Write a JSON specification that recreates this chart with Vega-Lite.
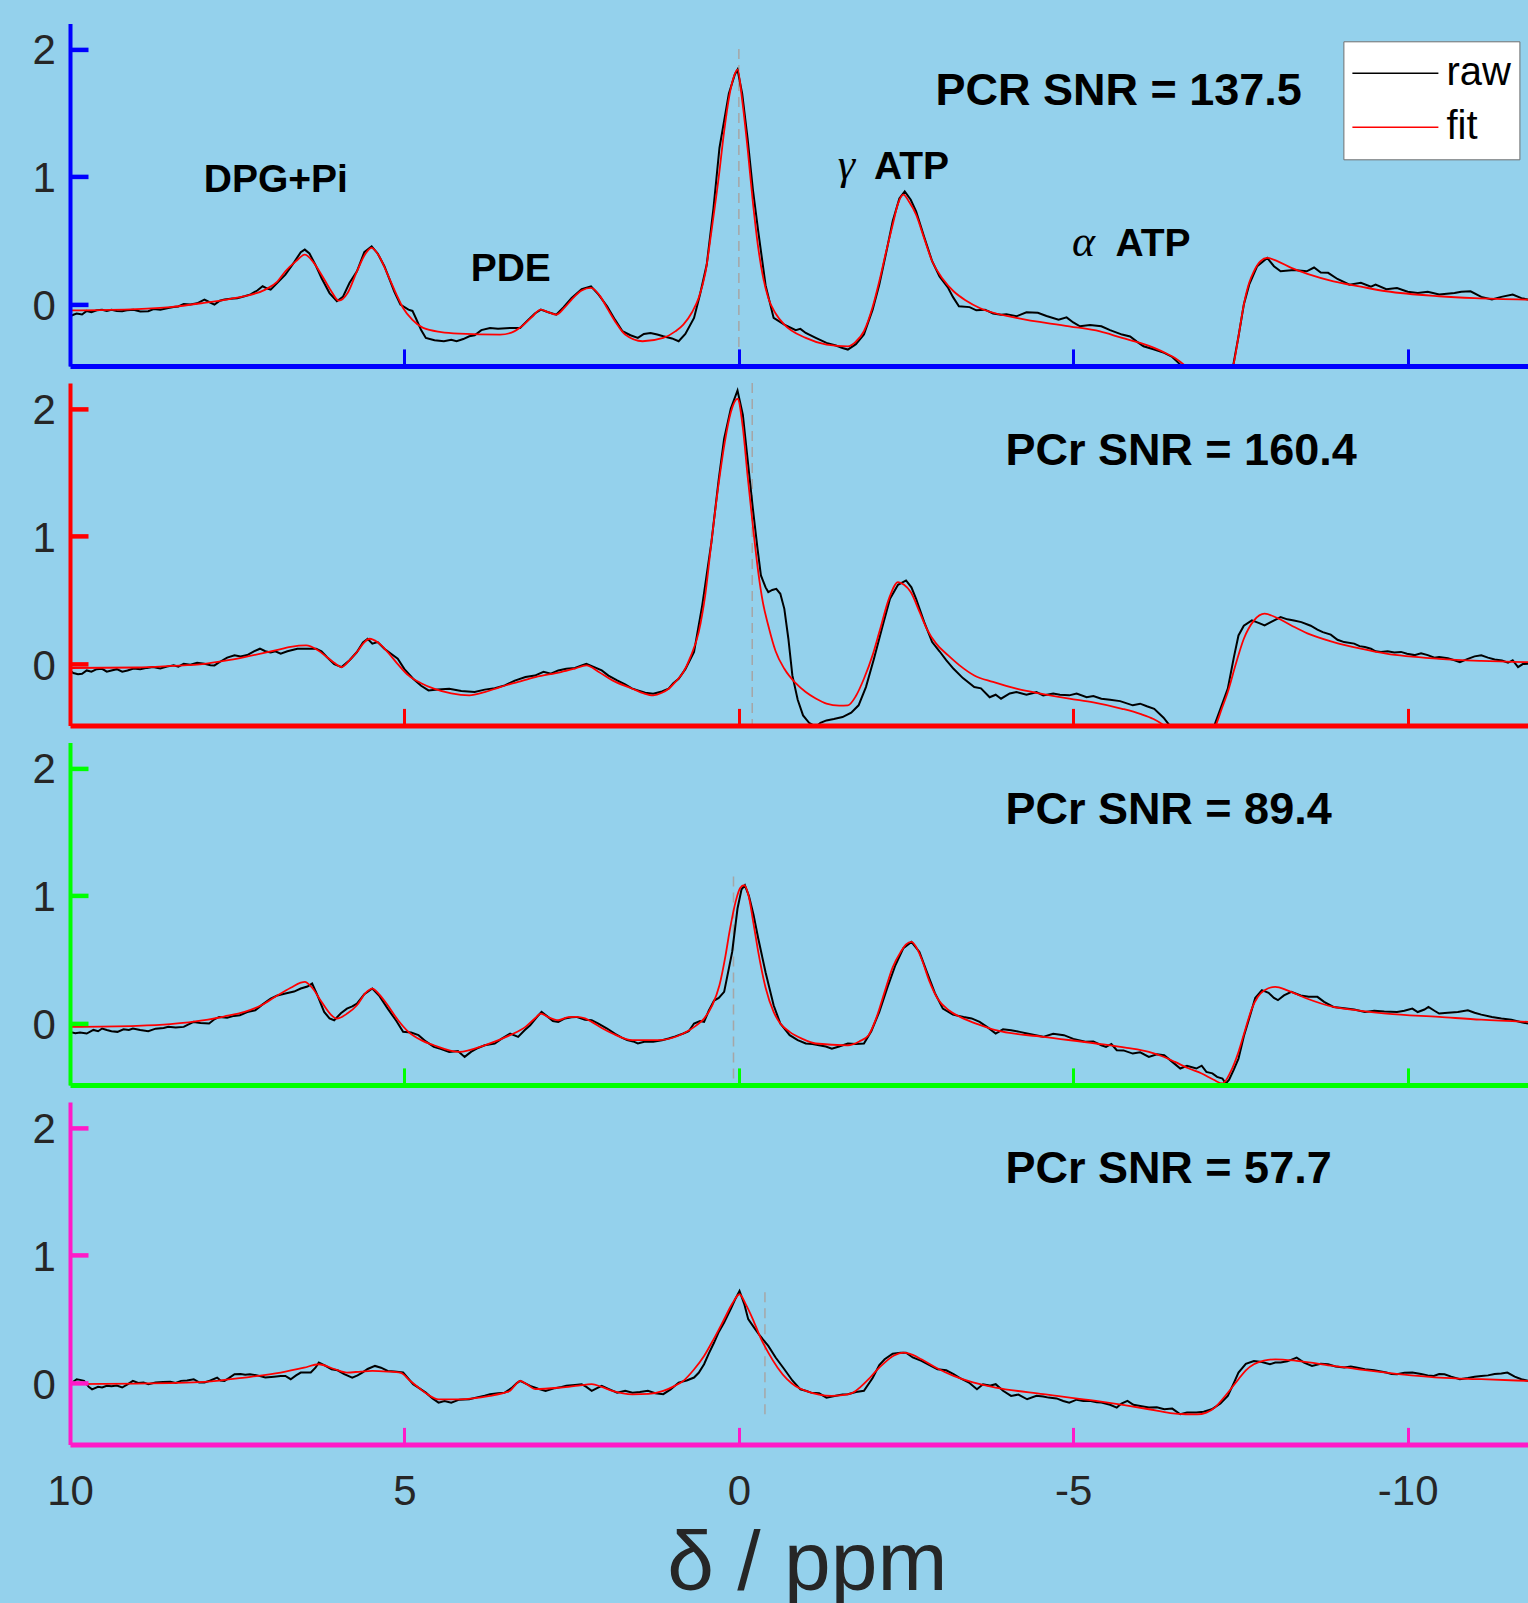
{
"$schema": "https://vega.github.io/schema/vega-lite/v6.json",
"background": "#94d1ec",
"padding": {"left": 32, "top": 23.4, "right": 0, "bottom": 0},
"bounds": "flush",
"spacing": 16.5,
"resolve": {"scale": {"color": "independent"}, "legend": {"color": "independent"}},
"config": {
  "view": {"stroke": null},
  "axis": {"grid": false, "labelFont": "Liberation Sans", "labelFontSize": 42, "labelColor": "#262626", "domainCap": "butt", "tickCap": "butt", "labelFlush": false, "labelOverlap": false, "labelExpr": "'' + datum.value"}
},
"datasets": {
  "dash": [
    {"p":1,"x":0.0,"y":2.0,"y2":-0.48},
    {"p":2,"x":-0.2,"y":2.2,"y2":-0.48},
    {"p":3,"x":0.08,"y":1.15,"y2":-0.48},
    {"p":4,"x":-0.39,"y":0.71,"y2":-0.28}
  ],
  "ann": [
    {"p":1,"k":"lab","x":8.0,"y":0.881,"t":"DPG+Pi"},
    {"p":1,"k":"lab","x":4.01,"y":0.187,"t":"PDE"},
    {"p":1,"k":"lab","x":-2.02,"y":0.985,"t":"ATP"},
    {"p":1,"k":"lab","x":-5.63,"y":0.383,"t":"ATP"},
    {"p":1,"k":"greek","x":-1.48,"y":0.985,"t":"γ"},
    {"p":1,"k":"greek","x":-4.98,"y":0.383,"t":"α"},
    {"p":1,"k":"snr","x":-2.94,"y":1.559,"t":"PCR SNR = 137.5"},
    {"p":2,"k":"snr","x":-3.985,"y":1.559,"t":"PCr SNR = 160.4"},
    {"p":3,"k":"snr","x":-3.985,"y":1.558,"t":"PCr SNR = 89.4"},
    {"p":4,"k":"snr","x":-3.985,"y":1.563,"t":"PCr SNR = 57.7"}
  ],
  "spec": [
{"p":1,"s":"raw","x":10.0,"y":-0.092},{"p":1,"s":"raw","x":9.95,"y":-0.08},{"p":1,"s":"raw","x":9.9,"y":-0.07},{"p":1,"s":"raw","x":9.82,"y":-0.078},{"p":1,"s":"raw","x":9.75,"y":-0.05},{"p":1,"s":"raw","x":9.68,"y":-0.06},{"p":1,"s":"raw","x":9.6,"y":-0.045},{"p":1,"s":"raw","x":9.52,"y":-0.04},{"p":1,"s":"raw","x":9.45,"y":-0.05},{"p":1,"s":"raw","x":9.38,"y":-0.04},{"p":1,"s":"raw","x":9.3,"y":-0.05},{"p":1,"s":"raw","x":9.22,"y":-0.052},{"p":1,"s":"raw","x":9.15,"y":-0.045},{"p":1,"s":"raw","x":9.05,"y":-0.04},{"p":1,"s":"raw","x":8.95,"y":-0.055},{"p":1,"s":"raw","x":8.83,"y":-0.052},{"p":1,"s":"raw","x":8.75,"y":-0.035},{"p":1,"s":"raw","x":8.65,"y":-0.04},{"p":1,"s":"raw","x":8.53,"y":-0.027},{"p":1,"s":"raw","x":8.45,"y":-0.02},{"p":1,"s":"raw","x":8.38,"y":-0.015},{"p":1,"s":"raw","x":8.3,"y":0.005},{"p":1,"s":"raw","x":8.2,"y":0.0},{"p":1,"s":"raw","x":8.1,"y":0.01},{"p":1,"s":"raw","x":7.99,"y":0.039},{"p":1,"s":"raw","x":7.92,"y":0.02},{"p":1,"s":"raw","x":7.84,"y":0.0},{"p":1,"s":"raw","x":7.76,"y":0.03},{"p":1,"s":"raw","x":7.69,"y":0.039},{"p":1,"s":"raw","x":7.6,"y":0.045},{"p":1,"s":"raw","x":7.5,"y":0.05},{"p":1,"s":"raw","x":7.39,"y":0.065},{"p":1,"s":"raw","x":7.3,"y":0.08},{"p":1,"s":"raw","x":7.2,"y":0.11},{"p":1,"s":"raw","x":7.12,"y":0.143},{"p":1,"s":"raw","x":7.05,"y":0.125},{"p":1,"s":"raw","x":7.0,"y":0.117},{"p":1,"s":"raw","x":6.9,"y":0.17},{"p":1,"s":"raw","x":6.78,"y":0.234},{"p":1,"s":"raw","x":6.65,"y":0.33},{"p":1,"s":"raw","x":6.55,"y":0.41},{"p":1,"s":"raw","x":6.49,"y":0.43},{"p":1,"s":"raw","x":6.42,"y":0.4},{"p":1,"s":"raw","x":6.33,"y":0.31},{"p":1,"s":"raw","x":6.24,"y":0.208},{"p":1,"s":"raw","x":6.12,"y":0.09},{"p":1,"s":"raw","x":6.01,"y":0.026},{"p":1,"s":"raw","x":5.92,"y":0.06},{"p":1,"s":"raw","x":5.82,"y":0.17},{"p":1,"s":"raw","x":5.71,"y":0.26},{"p":1,"s":"raw","x":5.6,"y":0.41},{"p":1,"s":"raw","x":5.49,"y":0.456},{"p":1,"s":"raw","x":5.4,"y":0.4},{"p":1,"s":"raw","x":5.3,"y":0.3},{"p":1,"s":"raw","x":5.25,"y":0.234},{"p":1,"s":"raw","x":5.15,"y":0.1},{"p":1,"s":"raw","x":5.06,"y":0.0},{"p":1,"s":"raw","x":4.94,"y":-0.04},{"p":1,"s":"raw","x":4.88,"y":-0.05},{"p":1,"s":"raw","x":4.83,"y":-0.105},{"p":1,"s":"raw","x":4.75,"y":-0.2},{"p":1,"s":"raw","x":4.68,"y":-0.261},{"p":1,"s":"raw","x":4.55,"y":-0.28},{"p":1,"s":"raw","x":4.41,"y":-0.287},{"p":1,"s":"raw","x":4.3,"y":-0.275},{"p":1,"s":"raw","x":4.22,"y":-0.287},{"p":1,"s":"raw","x":4.12,"y":-0.27},{"p":1,"s":"raw","x":4.03,"y":-0.248},{"p":1,"s":"raw","x":3.95,"y":-0.24},{"p":1,"s":"raw","x":3.85,"y":-0.2},{"p":1,"s":"raw","x":3.72,"y":-0.183},{"p":1,"s":"raw","x":3.6,"y":-0.19},{"p":1,"s":"raw","x":3.42,"y":-0.183},{"p":1,"s":"raw","x":3.27,"y":-0.183},{"p":1,"s":"raw","x":3.15,"y":-0.12},{"p":1,"s":"raw","x":3.05,"y":-0.07},{"p":1,"s":"raw","x":2.96,"y":-0.04},{"p":1,"s":"raw","x":2.85,"y":-0.06},{"p":1,"s":"raw","x":2.73,"y":-0.079},{"p":1,"s":"raw","x":2.62,"y":-0.02},{"p":1,"s":"raw","x":2.5,"y":0.052},{"p":1,"s":"raw","x":2.35,"y":0.12},{"p":1,"s":"raw","x":2.21,"y":0.143},{"p":1,"s":"raw","x":2.1,"y":0.08},{"p":1,"s":"raw","x":1.97,"y":-0.013},{"p":1,"s":"raw","x":1.85,"y":-0.12},{"p":1,"s":"raw","x":1.74,"y":-0.209},{"p":1,"s":"raw","x":1.62,"y":-0.24},{"p":1,"s":"raw","x":1.51,"y":-0.261},{"p":1,"s":"raw","x":1.42,"y":-0.23},{"p":1,"s":"raw","x":1.32,"y":-0.222},{"p":1,"s":"raw","x":1.22,"y":-0.235},{"p":1,"s":"raw","x":1.13,"y":-0.248},{"p":1,"s":"raw","x":1.0,"y":-0.265},{"p":1,"s":"raw","x":0.9,"y":-0.287},{"p":1,"s":"raw","x":0.8,"y":-0.23},{"p":1,"s":"raw","x":0.67,"y":-0.105},{"p":1,"s":"raw","x":0.58,"y":0.08},{"p":1,"s":"raw","x":0.48,"y":0.313},{"p":1,"s":"raw","x":0.38,"y":0.75},{"p":1,"s":"raw","x":0.29,"y":1.225},{"p":1,"s":"raw","x":0.15,"y":1.65},{"p":1,"s":"raw","x":0.06,"y":1.8},{"p":1,"s":"raw","x":0.02,"y":1.838},{"p":1,"s":"raw","x":-0.05,"y":1.65},{"p":1,"s":"raw","x":-0.13,"y":1.303},{"p":1,"s":"raw","x":-0.21,"y":0.9},{"p":1,"s":"raw","x":-0.29,"y":0.573},{"p":1,"s":"raw","x":-0.4,"y":0.15},{"p":1,"s":"raw","x":-0.52,"y":-0.105},{"p":1,"s":"raw","x":-0.68,"y":-0.157},{"p":1,"s":"raw","x":-0.85,"y":-0.2},{"p":1,"s":"raw","x":-0.92,"y":-0.19},{"p":1,"s":"raw","x":-1.0,"y":-0.222},{"p":1,"s":"raw","x":-1.15,"y":-0.26},{"p":1,"s":"raw","x":-1.31,"y":-0.3},{"p":1,"s":"raw","x":-1.45,"y":-0.32},{"p":1,"s":"raw","x":-1.55,"y":-0.34},{"p":1,"s":"raw","x":-1.63,"y":-0.352},{"p":1,"s":"raw","x":-1.75,"y":-0.31},{"p":1,"s":"raw","x":-1.87,"y":-0.235},{"p":1,"s":"raw","x":-2.0,"y":-0.04},{"p":1,"s":"raw","x":-2.1,"y":0.156},{"p":1,"s":"raw","x":-2.2,"y":0.4},{"p":1,"s":"raw","x":-2.3,"y":0.652},{"p":1,"s":"raw","x":-2.4,"y":0.83},{"p":1,"s":"raw","x":-2.48,"y":0.886},{"p":1,"s":"raw","x":-2.57,"y":0.82},{"p":1,"s":"raw","x":-2.65,"y":0.73},{"p":1,"s":"raw","x":-2.77,"y":0.53},{"p":1,"s":"raw","x":-2.89,"y":0.339},{"p":1,"s":"raw","x":-3.0,"y":0.22},{"p":1,"s":"raw","x":-3.13,"y":0.13},{"p":1,"s":"raw","x":-3.2,"y":0.06},{"p":1,"s":"raw","x":-3.29,"y":-0.013},{"p":1,"s":"raw","x":-3.45,"y":-0.02},{"p":1,"s":"raw","x":-3.55,"y":-0.045},{"p":1,"s":"raw","x":-3.68,"y":-0.04},{"p":1,"s":"raw","x":-3.8,"y":-0.07},{"p":1,"s":"raw","x":-3.92,"y":-0.079},{"p":1,"s":"raw","x":-4.0,"y":-0.075},{"p":1,"s":"raw","x":-4.15,"y":-0.092},{"p":1,"s":"raw","x":-4.3,"y":-0.06},{"p":1,"s":"raw","x":-4.47,"y":-0.065},{"p":1,"s":"raw","x":-4.6,"y":-0.09},{"p":1,"s":"raw","x":-4.78,"y":-0.118},{"p":1,"s":"raw","x":-4.9,"y":-0.1},{"p":1,"s":"raw","x":-5.0,"y":-0.14},{"p":1,"s":"raw","x":-5.1,"y":-0.17},{"p":1,"s":"raw","x":-5.25,"y":-0.16},{"p":1,"s":"raw","x":-5.42,"y":-0.17},{"p":1,"s":"raw","x":-5.55,"y":-0.2},{"p":1,"s":"raw","x":-5.73,"y":-0.235},{"p":1,"s":"raw","x":-5.85,"y":-0.25},{"p":1,"s":"raw","x":-5.95,"y":-0.29},{"p":1,"s":"raw","x":-6.05,"y":-0.326},{"p":1,"s":"raw","x":-6.2,"y":-0.35},{"p":1,"s":"raw","x":-6.36,"y":-0.378},{"p":1,"s":"raw","x":-6.48,"y":-0.41},{"p":1,"s":"raw","x":-6.6,"y":-0.47},{"p":1,"s":"raw","x":-6.8,"y":-0.62},{"p":1,"s":"raw","x":-7.2,"y":-0.62},{"p":1,"s":"raw","x":-7.39,"y":-0.48},{"p":1,"s":"raw","x":-7.47,"y":-0.25},{"p":1,"s":"raw","x":-7.55,"y":0.0},{"p":1,"s":"raw","x":-7.63,"y":0.156},{"p":1,"s":"raw","x":-7.75,"y":0.3},{"p":1,"s":"raw","x":-7.9,"y":0.365},{"p":1,"s":"raw","x":-8.0,"y":0.3},{"p":1,"s":"raw","x":-8.1,"y":0.26},{"p":1,"s":"raw","x":-8.3,"y":0.27},{"p":1,"s":"raw","x":-8.49,"y":0.26},{"p":1,"s":"raw","x":-8.6,"y":0.29},{"p":1,"s":"raw","x":-8.7,"y":0.25},{"p":1,"s":"raw","x":-8.81,"y":0.248},{"p":1,"s":"raw","x":-8.95,"y":0.2},{"p":1,"s":"raw","x":-9.13,"y":0.156},{"p":1,"s":"raw","x":-9.3,"y":0.17},{"p":1,"s":"raw","x":-9.45,"y":0.14},{"p":1,"s":"raw","x":-9.52,"y":0.156},{"p":1,"s":"raw","x":-9.68,"y":0.12},{"p":1,"s":"raw","x":-9.84,"y":0.13},{"p":1,"s":"raw","x":-10.0,"y":0.1},{"p":1,"s":"raw","x":-10.15,"y":0.091},{"p":1,"s":"raw","x":-10.3,"y":0.1},{"p":1,"s":"raw","x":-10.47,"y":0.078},{"p":1,"s":"raw","x":-10.7,"y":0.09},{"p":1,"s":"raw","x":-10.8,"y":0.1},{"p":1,"s":"raw","x":-10.94,"y":0.104},{"p":1,"s":"raw","x":-11.1,"y":0.06},{"p":1,"s":"raw","x":-11.26,"y":0.039},{"p":1,"s":"raw","x":-11.4,"y":0.06},{"p":1,"s":"raw","x":-11.57,"y":0.078},{"p":1,"s":"raw","x":-11.7,"y":0.05},{"p":1,"s":"raw","x":-11.8,"y":0.039},
{"p":1,"s":"fit","x":10.0,"y":-0.045},{"p":1,"s":"fit","x":9.0,"y":-0.035},{"p":1,"s":"fit","x":8.5,"y":-0.02},{"p":1,"s":"fit","x":8.0,"y":0.013},{"p":1,"s":"fit","x":7.6,"y":0.045},{"p":1,"s":"fit","x":7.39,"y":0.065},{"p":1,"s":"fit","x":7.08,"y":0.117},{"p":1,"s":"fit","x":6.9,"y":0.18},{"p":1,"s":"fit","x":6.78,"y":0.26},{"p":1,"s":"fit","x":6.62,"y":0.34},{"p":1,"s":"fit","x":6.49,"y":0.39},{"p":1,"s":"fit","x":6.36,"y":0.33},{"p":1,"s":"fit","x":6.24,"y":0.234},{"p":1,"s":"fit","x":6.1,"y":0.11},{"p":1,"s":"fit","x":5.98,"y":0.03},{"p":1,"s":"fit","x":5.85,"y":0.09},{"p":1,"s":"fit","x":5.71,"y":0.26},{"p":1,"s":"fit","x":5.58,"y":0.4},{"p":1,"s":"fit","x":5.49,"y":0.443},{"p":1,"s":"fit","x":5.38,"y":0.38},{"p":1,"s":"fit","x":5.25,"y":0.234},{"p":1,"s":"fit","x":5.12,"y":0.08},{"p":1,"s":"fit","x":5.02,"y":-0.027},{"p":1,"s":"fit","x":4.88,"y":-0.12},{"p":1,"s":"fit","x":4.72,"y":-0.183},{"p":1,"s":"fit","x":4.45,"y":-0.215},{"p":1,"s":"fit","x":4.18,"y":-0.227},{"p":1,"s":"fit","x":3.57,"y":-0.235},{"p":1,"s":"fit","x":3.4,"y":-0.22},{"p":1,"s":"fit","x":3.27,"y":-0.18},{"p":1,"s":"fit","x":3.1,"y":-0.1},{"p":1,"s":"fit","x":2.96,"y":-0.04},{"p":1,"s":"fit","x":2.85,"y":-0.06},{"p":1,"s":"fit","x":2.73,"y":-0.079},{"p":1,"s":"fit","x":2.6,"y":-0.02},{"p":1,"s":"fit","x":2.5,"y":0.039},{"p":1,"s":"fit","x":2.35,"y":0.11},{"p":1,"s":"fit","x":2.21,"y":0.13},{"p":1,"s":"fit","x":2.08,"y":0.07},{"p":1,"s":"fit","x":1.97,"y":-0.027},{"p":1,"s":"fit","x":1.84,"y":-0.14},{"p":1,"s":"fit","x":1.7,"y":-0.235},{"p":1,"s":"fit","x":1.44,"y":-0.287},{"p":1,"s":"fit","x":1.13,"y":-0.261},{"p":1,"s":"fit","x":0.95,"y":-0.21},{"p":1,"s":"fit","x":0.83,"y":-0.157},{"p":1,"s":"fit","x":0.7,"y":-0.06},{"p":1,"s":"fit","x":0.6,"y":0.052},{"p":1,"s":"fit","x":0.5,"y":0.25},{"p":1,"s":"fit","x":0.41,"y":0.573},{"p":1,"s":"fit","x":0.3,"y":1.0},{"p":1,"s":"fit","x":0.22,"y":1.356},{"p":1,"s":"fit","x":0.14,"y":1.64},{"p":1,"s":"fit","x":0.07,"y":1.79},{"p":1,"s":"fit","x":0.02,"y":1.838},{"p":1,"s":"fit","x":-0.05,"y":1.6},{"p":1,"s":"fit","x":-0.13,"y":1.225},{"p":1,"s":"fit","x":-0.21,"y":0.8},{"p":1,"s":"fit","x":-0.29,"y":0.443},{"p":1,"s":"fit","x":-0.36,"y":0.22},{"p":1,"s":"fit","x":-0.44,"y":0.052},{"p":1,"s":"fit","x":-0.55,"y":-0.07},{"p":1,"s":"fit","x":-0.68,"y":-0.157},{"p":1,"s":"fit","x":-1.0,"y":-0.261},{"p":1,"s":"fit","x":-1.31,"y":-0.313},{"p":1,"s":"fit","x":-1.63,"y":-0.327},{"p":1,"s":"fit","x":-1.75,"y":-0.29},{"p":1,"s":"fit","x":-1.87,"y":-0.209},{"p":1,"s":"fit","x":-2.0,"y":-0.02},{"p":1,"s":"fit","x":-2.1,"y":0.182},{"p":1,"s":"fit","x":-2.2,"y":0.41},{"p":1,"s":"fit","x":-2.3,"y":0.625},{"p":1,"s":"fit","x":-2.38,"y":0.79},{"p":1,"s":"fit","x":-2.46,"y":0.86},{"p":1,"s":"fit","x":-2.55,"y":0.8},{"p":1,"s":"fit","x":-2.65,"y":0.704},{"p":1,"s":"fit","x":-2.77,"y":0.52},{"p":1,"s":"fit","x":-2.89,"y":0.339},{"p":1,"s":"fit","x":-3.05,"y":0.2},{"p":1,"s":"fit","x":-3.21,"y":0.104},{"p":1,"s":"fit","x":-3.4,"y":0.03},{"p":1,"s":"fit","x":-3.6,"y":-0.027},{"p":1,"s":"fit","x":-4.15,"y":-0.105},{"p":1,"s":"fit","x":-4.94,"y":-0.17},{"p":1,"s":"fit","x":-5.4,"y":-0.21},{"p":1,"s":"fit","x":-5.73,"y":-0.261},{"p":1,"s":"fit","x":-6.0,"y":-0.3},{"p":1,"s":"fit","x":-6.21,"y":-0.339},{"p":1,"s":"fit","x":-6.4,"y":-0.385},{"p":1,"s":"fit","x":-6.52,"y":-0.418},{"p":1,"s":"fit","x":-6.68,"y":-0.483},{"p":1,"s":"fit","x":-6.85,"y":-0.58},{"p":1,"s":"fit","x":-7.1,"y":-0.65},{"p":1,"s":"fit","x":-7.3,"y":-0.58},{"p":1,"s":"fit","x":-7.39,"y":-0.483},{"p":1,"s":"fit","x":-7.47,"y":-0.25},{"p":1,"s":"fit","x":-7.55,"y":0.0},{"p":1,"s":"fit","x":-7.63,"y":0.17},{"p":1,"s":"fit","x":-7.7,"y":0.26},{"p":1,"s":"fit","x":-7.8,"y":0.34},{"p":1,"s":"fit","x":-7.9,"y":0.365},{"p":1,"s":"fit","x":-8.05,"y":0.34},{"p":1,"s":"fit","x":-8.26,"y":0.287},{"p":1,"s":"fit","x":-8.5,"y":0.24},{"p":1,"s":"fit","x":-8.89,"y":0.182},{"p":1,"s":"fit","x":-9.3,"y":0.14},{"p":1,"s":"fit","x":-9.68,"y":0.104},{"p":1,"s":"fit","x":-10.47,"y":0.065},{"p":1,"s":"fit","x":-11.0,"y":0.05},{"p":1,"s":"fit","x":-11.8,"y":0.039},
{"p":2,"s":"raw","x":10.0,"y":-0.05},{"p":2,"s":"raw","x":9.95,"y":-0.07},{"p":2,"s":"raw","x":9.88,"y":-0.08},{"p":2,"s":"raw","x":9.82,"y":-0.076},{"p":2,"s":"raw","x":9.75,"y":-0.05},{"p":2,"s":"raw","x":9.68,"y":-0.06},{"p":2,"s":"raw","x":9.6,"y":-0.04},{"p":2,"s":"raw","x":9.52,"y":-0.037},{"p":2,"s":"raw","x":9.45,"y":-0.06},{"p":2,"s":"raw","x":9.38,"y":-0.05},{"p":2,"s":"raw","x":9.3,"y":-0.04},{"p":2,"s":"raw","x":9.22,"y":-0.06},{"p":2,"s":"raw","x":9.14,"y":-0.05},{"p":2,"s":"raw","x":9.05,"y":-0.035},{"p":2,"s":"raw","x":8.95,"y":-0.04},{"p":2,"s":"raw","x":8.85,"y":-0.03},{"p":2,"s":"raw","x":8.76,"y":-0.024},{"p":2,"s":"raw","x":8.65,"y":-0.035},{"p":2,"s":"raw","x":8.55,"y":-0.02},{"p":2,"s":"raw","x":8.45,"y":-0.01},{"p":2,"s":"raw","x":8.38,"y":-0.02},{"p":2,"s":"raw","x":8.3,"y":0.002},{"p":2,"s":"raw","x":8.2,"y":-0.005},{"p":2,"s":"raw","x":8.1,"y":0.01},{"p":2,"s":"raw","x":7.99,"y":0.002},{"p":2,"s":"raw","x":7.9,"y":-0.01},{"p":2,"s":"raw","x":7.84,"y":-0.011},{"p":2,"s":"raw","x":7.75,"y":0.02},{"p":2,"s":"raw","x":7.65,"y":0.05},{"p":2,"s":"raw","x":7.54,"y":0.068},{"p":2,"s":"raw","x":7.45,"y":0.06},{"p":2,"s":"raw","x":7.35,"y":0.07},{"p":2,"s":"raw","x":7.25,"y":0.1},{"p":2,"s":"raw","x":7.16,"y":0.12},{"p":2,"s":"raw","x":7.08,"y":0.1},{"p":2,"s":"raw","x":7.0,"y":0.09},{"p":2,"s":"raw","x":6.93,"y":0.1},{"p":2,"s":"raw","x":6.85,"y":0.081},{"p":2,"s":"raw","x":6.75,"y":0.1},{"p":2,"s":"raw","x":6.6,"y":0.12},{"p":2,"s":"raw","x":6.47,"y":0.12},{"p":2,"s":"raw","x":6.32,"y":0.12},{"p":2,"s":"raw","x":6.24,"y":0.1},{"p":2,"s":"raw","x":6.16,"y":0.055},{"p":2,"s":"raw","x":6.05,"y":0.0},{"p":2,"s":"raw","x":5.94,"y":-0.024},{"p":2,"s":"raw","x":5.82,"y":0.03},{"p":2,"s":"raw","x":5.71,"y":0.094},{"p":2,"s":"raw","x":5.62,"y":0.17},{"p":2,"s":"raw","x":5.55,"y":0.198},{"p":2,"s":"raw","x":5.48,"y":0.16},{"p":2,"s":"raw","x":5.4,"y":0.172},{"p":2,"s":"raw","x":5.3,"y":0.12},{"p":2,"s":"raw","x":5.2,"y":0.08},{"p":2,"s":"raw","x":5.1,"y":0.041},{"p":2,"s":"raw","x":5.0,"y":-0.04},{"p":2,"s":"raw","x":4.87,"y":-0.115},{"p":2,"s":"raw","x":4.75,"y":-0.17},{"p":2,"s":"raw","x":4.64,"y":-0.206},{"p":2,"s":"raw","x":4.5,"y":-0.2},{"p":2,"s":"raw","x":4.33,"y":-0.193},{"p":2,"s":"raw","x":4.15,"y":-0.21},{"p":2,"s":"raw","x":3.95,"y":-0.219},{"p":2,"s":"raw","x":3.8,"y":-0.2},{"p":2,"s":"raw","x":3.65,"y":-0.19},{"p":2,"s":"raw","x":3.5,"y":-0.167},{"p":2,"s":"raw","x":3.35,"y":-0.13},{"p":2,"s":"raw","x":3.19,"y":-0.102},{"p":2,"s":"raw","x":3.05,"y":-0.09},{"p":2,"s":"raw","x":2.92,"y":-0.06},{"p":2,"s":"raw","x":2.81,"y":-0.076},{"p":2,"s":"raw","x":2.7,"y":-0.05},{"p":2,"s":"raw","x":2.58,"y":-0.037},{"p":2,"s":"raw","x":2.45,"y":-0.03},{"p":2,"s":"raw","x":2.35,"y":-0.01},{"p":2,"s":"raw","x":2.28,"y":0.002},{"p":2,"s":"raw","x":2.18,"y":-0.02},{"p":2,"s":"raw","x":2.05,"y":-0.05},{"p":2,"s":"raw","x":1.95,"y":-0.09},{"p":2,"s":"raw","x":1.82,"y":-0.128},{"p":2,"s":"raw","x":1.7,"y":-0.16},{"p":2,"s":"raw","x":1.6,"y":-0.19},{"p":2,"s":"raw","x":1.51,"y":-0.206},{"p":2,"s":"raw","x":1.4,"y":-0.225},{"p":2,"s":"raw","x":1.28,"y":-0.232},{"p":2,"s":"raw","x":1.15,"y":-0.215},{"p":2,"s":"raw","x":1.05,"y":-0.193},{"p":2,"s":"raw","x":0.98,"y":-0.15},{"p":2,"s":"raw","x":0.9,"y":-0.115},{"p":2,"s":"raw","x":0.8,"y":-0.04},{"p":2,"s":"raw","x":0.67,"y":0.094},{"p":2,"s":"raw","x":0.55,"y":0.45},{"p":2,"s":"raw","x":0.41,"y":0.954},{"p":2,"s":"raw","x":0.3,"y":1.45},{"p":2,"s":"raw","x":0.22,"y":1.763},{"p":2,"s":"raw","x":0.12,"y":2.0},{"p":2,"s":"raw","x":0.02,"y":2.141},{"p":2,"s":"raw","x":-0.06,"y":1.95},{"p":2,"s":"raw","x":-0.13,"y":1.606},{"p":2,"s":"raw","x":-0.21,"y":1.215},{"p":2,"s":"raw","x":-0.28,"y":0.9},{"p":2,"s":"raw","x":-0.33,"y":0.693},{"p":2,"s":"raw","x":-0.4,"y":0.6},{"p":2,"s":"raw","x":-0.44,"y":0.563},{"p":2,"s":"raw","x":-0.5,"y":0.58},{"p":2,"s":"raw","x":-0.56,"y":0.589},{"p":2,"s":"raw","x":-0.62,"y":0.55},{"p":2,"s":"raw","x":-0.68,"y":0.432},{"p":2,"s":"raw","x":-0.74,"y":0.2},{"p":2,"s":"raw","x":-0.8,"y":-0.089},{"p":2,"s":"raw","x":-0.88,"y":-0.28},{"p":2,"s":"raw","x":-0.96,"y":-0.402},{"p":2,"s":"raw","x":-1.05,"y":-0.46},{"p":2,"s":"raw","x":-1.15,"y":-0.49},{"p":2,"s":"raw","x":-1.22,"y":-0.46},{"p":2,"s":"raw","x":-1.31,"y":-0.441},{"p":2,"s":"raw","x":-1.42,"y":-0.43},{"p":2,"s":"raw","x":-1.55,"y":-0.415},{"p":2,"s":"raw","x":-1.68,"y":-0.38},{"p":2,"s":"raw","x":-1.79,"y":-0.323},{"p":2,"s":"raw","x":-1.9,"y":-0.18},{"p":2,"s":"raw","x":-2.02,"y":0.041},{"p":2,"s":"raw","x":-2.15,"y":0.3},{"p":2,"s":"raw","x":-2.26,"y":0.511},{"p":2,"s":"raw","x":-2.38,"y":0.62},{"p":2,"s":"raw","x":-2.5,"y":0.654},{"p":2,"s":"raw","x":-2.58,"y":0.6},{"p":2,"s":"raw","x":-2.65,"y":0.511},{"p":2,"s":"raw","x":-2.77,"y":0.33},{"p":2,"s":"raw","x":-2.89,"y":0.172},{"p":2,"s":"raw","x":-3.0,"y":0.1},{"p":2,"s":"raw","x":-3.1,"y":0.03},{"p":2,"s":"raw","x":-3.21,"y":-0.037},{"p":2,"s":"raw","x":-3.35,"y":-0.11},{"p":2,"s":"raw","x":-3.52,"y":-0.18},{"p":2,"s":"raw","x":-3.62,"y":-0.19},{"p":2,"s":"raw","x":-3.75,"y":-0.26},{"p":2,"s":"raw","x":-3.84,"y":-0.24},{"p":2,"s":"raw","x":-3.92,"y":-0.271},{"p":2,"s":"raw","x":-4.05,"y":-0.23},{"p":2,"s":"raw","x":-4.15,"y":-0.219},{"p":2,"s":"raw","x":-4.3,"y":-0.24},{"p":2,"s":"raw","x":-4.45,"y":-0.22},{"p":2,"s":"raw","x":-4.55,"y":-0.245},{"p":2,"s":"raw","x":-4.7,"y":-0.23},{"p":2,"s":"raw","x":-4.8,"y":-0.24},{"p":2,"s":"raw","x":-4.94,"y":-0.245},{"p":2,"s":"raw","x":-5.05,"y":-0.23},{"p":2,"s":"raw","x":-5.2,"y":-0.26},{"p":2,"s":"raw","x":-5.3,"y":-0.25},{"p":2,"s":"raw","x":-5.42,"y":-0.271},{"p":2,"s":"raw","x":-5.55,"y":-0.28},{"p":2,"s":"raw","x":-5.7,"y":-0.29},{"p":2,"s":"raw","x":-5.89,"y":-0.323},{"p":2,"s":"raw","x":-6.0,"y":-0.31},{"p":2,"s":"raw","x":-6.1,"y":-0.33},{"p":2,"s":"raw","x":-6.21,"y":-0.35},{"p":2,"s":"raw","x":-6.35,"y":-0.42},{"p":2,"s":"raw","x":-6.44,"y":-0.48},{"p":2,"s":"raw","x":-6.7,"y":-0.6},{"p":2,"s":"raw","x":-7.0,"y":-0.6},{"p":2,"s":"raw","x":-7.11,"y":-0.48},{"p":2,"s":"raw","x":-7.2,"y":-0.35},{"p":2,"s":"raw","x":-7.31,"y":-0.193},{"p":2,"s":"raw","x":-7.4,"y":0.05},{"p":2,"s":"raw","x":-7.47,"y":0.224},{"p":2,"s":"raw","x":-7.55,"y":0.3},{"p":2,"s":"raw","x":-7.67,"y":0.342},{"p":2,"s":"raw","x":-7.78,"y":0.32},{"p":2,"s":"raw","x":-7.86,"y":0.302},{"p":2,"s":"raw","x":-7.96,"y":0.33},{"p":2,"s":"raw","x":-8.1,"y":0.368},{"p":2,"s":"raw","x":-8.2,"y":0.35},{"p":2,"s":"raw","x":-8.3,"y":0.34},{"p":2,"s":"raw","x":-8.41,"y":0.328},{"p":2,"s":"raw","x":-8.55,"y":0.3},{"p":2,"s":"raw","x":-8.65,"y":0.27},{"p":2,"s":"raw","x":-8.73,"y":0.25},{"p":2,"s":"raw","x":-8.85,"y":0.23},{"p":2,"s":"raw","x":-8.95,"y":0.19},{"p":2,"s":"raw","x":-9.05,"y":0.172},{"p":2,"s":"raw","x":-9.2,"y":0.16},{"p":2,"s":"raw","x":-9.28,"y":0.14},{"p":2,"s":"raw","x":-9.36,"y":0.133},{"p":2,"s":"raw","x":-9.45,"y":0.12},{"p":2,"s":"raw","x":-9.52,"y":0.1},{"p":2,"s":"raw","x":-9.6,"y":0.094},{"p":2,"s":"raw","x":-9.7,"y":0.1},{"p":2,"s":"raw","x":-9.8,"y":0.09},{"p":2,"s":"raw","x":-9.9,"y":0.095},{"p":2,"s":"raw","x":-9.99,"y":0.081},{"p":2,"s":"raw","x":-10.1,"y":0.07},{"p":2,"s":"raw","x":-10.2,"y":0.085},{"p":2,"s":"raw","x":-10.3,"y":0.07},{"p":2,"s":"raw","x":-10.4,"y":0.05},{"p":2,"s":"raw","x":-10.47,"y":0.055},{"p":2,"s":"raw","x":-10.6,"y":0.045},{"p":2,"s":"raw","x":-10.7,"y":0.03},{"p":2,"s":"raw","x":-10.78,"y":0.015},{"p":2,"s":"raw","x":-10.9,"y":0.04},{"p":2,"s":"raw","x":-11.0,"y":0.06},{"p":2,"s":"raw","x":-11.1,"y":0.068},{"p":2,"s":"raw","x":-11.2,"y":0.05},{"p":2,"s":"raw","x":-11.3,"y":0.035},{"p":2,"s":"raw","x":-11.41,"y":0.028},{"p":2,"s":"raw","x":-11.5,"y":0.01},{"p":2,"s":"raw","x":-11.57,"y":0.03},{"p":2,"s":"raw","x":-11.65,"y":-0.024},{"p":2,"s":"raw","x":-11.72,"y":0.0},{"p":2,"s":"raw","x":-11.8,"y":0.002},
{"p":2,"s":"fit","x":10.0,"y":-0.031},{"p":2,"s":"fit","x":9.0,"y":-0.027},{"p":2,"s":"fit","x":8.5,"y":-0.015},{"p":2,"s":"fit","x":7.99,"y":0.002},{"p":2,"s":"fit","x":7.7,"y":0.025},{"p":2,"s":"fit","x":7.39,"y":0.055},{"p":2,"s":"fit","x":6.93,"y":0.107},{"p":2,"s":"fit","x":6.7,"y":0.135},{"p":2,"s":"fit","x":6.47,"y":0.146},{"p":2,"s":"fit","x":6.3,"y":0.11},{"p":2,"s":"fit","x":6.16,"y":0.055},{"p":2,"s":"fit","x":6.05,"y":0.01},{"p":2,"s":"fit","x":5.94,"y":-0.024},{"p":2,"s":"fit","x":5.82,"y":0.03},{"p":2,"s":"fit","x":5.71,"y":0.094},{"p":2,"s":"fit","x":5.6,"y":0.17},{"p":2,"s":"fit","x":5.52,"y":0.198},{"p":2,"s":"fit","x":5.4,"y":0.17},{"p":2,"s":"fit","x":5.25,"y":0.094},{"p":2,"s":"fit","x":5.1,"y":0.0},{"p":2,"s":"fit","x":4.94,"y":-0.089},{"p":2,"s":"fit","x":4.75,"y":-0.15},{"p":2,"s":"fit","x":4.56,"y":-0.193},{"p":2,"s":"fit","x":4.3,"y":-0.23},{"p":2,"s":"fit","x":4.03,"y":-0.245},{"p":2,"s":"fit","x":3.8,"y":-0.22},{"p":2,"s":"fit","x":3.57,"y":-0.18},{"p":2,"s":"fit","x":3.3,"y":-0.14},{"p":2,"s":"fit","x":3.04,"y":-0.102},{"p":2,"s":"fit","x":2.66,"y":-0.063},{"p":2,"s":"fit","x":2.45,"y":-0.035},{"p":2,"s":"fit","x":2.28,"y":-0.011},{"p":2,"s":"fit","x":2.1,"y":-0.06},{"p":2,"s":"fit","x":1.89,"y":-0.128},{"p":2,"s":"fit","x":1.59,"y":-0.193},{"p":2,"s":"fit","x":1.42,"y":-0.23},{"p":2,"s":"fit","x":1.28,"y":-0.245},{"p":2,"s":"fit","x":1.15,"y":-0.225},{"p":2,"s":"fit","x":1.05,"y":-0.193},{"p":2,"s":"fit","x":0.95,"y":-0.14},{"p":2,"s":"fit","x":0.83,"y":-0.063},{"p":2,"s":"fit","x":0.72,"y":0.06},{"p":2,"s":"fit","x":0.6,"y":0.25},{"p":2,"s":"fit","x":0.5,"y":0.55},{"p":2,"s":"fit","x":0.41,"y":0.954},{"p":2,"s":"fit","x":0.31,"y":1.38},{"p":2,"s":"fit","x":0.21,"y":1.737},{"p":2,"s":"fit","x":0.12,"y":1.97},{"p":2,"s":"fit","x":0.02,"y":2.076},{"p":2,"s":"fit","x":-0.06,"y":1.85},{"p":2,"s":"fit","x":-0.13,"y":1.476},{"p":2,"s":"fit","x":-0.21,"y":1.08},{"p":2,"s":"fit","x":-0.29,"y":0.72},{"p":2,"s":"fit","x":-0.36,"y":0.48},{"p":2,"s":"fit","x":-0.44,"y":0.302},{"p":2,"s":"fit","x":-0.55,"y":0.1},{"p":2,"s":"fit","x":-0.68,"y":-0.037},{"p":2,"s":"fit","x":-0.85,"y":-0.15},{"p":2,"s":"fit","x":-1.0,"y":-0.219},{"p":2,"s":"fit","x":-1.15,"y":-0.27},{"p":2,"s":"fit","x":-1.31,"y":-0.31},{"p":2,"s":"fit","x":-1.5,"y":-0.325},{"p":2,"s":"fit","x":-1.63,"y":-0.323},{"p":2,"s":"fit","x":-1.75,"y":-0.25},{"p":2,"s":"fit","x":-1.87,"y":-0.115},{"p":2,"s":"fit","x":-2.0,"y":0.07},{"p":2,"s":"fit","x":-2.1,"y":0.25},{"p":2,"s":"fit","x":-2.25,"y":0.52},{"p":2,"s":"fit","x":-2.38,"y":0.641},{"p":2,"s":"fit","x":-2.47,"y":0.62},{"p":2,"s":"fit","x":-2.57,"y":0.563},{"p":2,"s":"fit","x":-2.7,"y":0.41},{"p":2,"s":"fit","x":-2.81,"y":0.276},{"p":2,"s":"fit","x":-2.95,"y":0.16},{"p":2,"s":"fit","x":-3.13,"y":0.068},{"p":2,"s":"fit","x":-3.3,"y":-0.01},{"p":2,"s":"fit","x":-3.52,"y":-0.089},{"p":2,"s":"fit","x":-3.8,"y":-0.14},{"p":2,"s":"fit","x":-4.15,"y":-0.193},{"p":2,"s":"fit","x":-4.55,"y":-0.235},{"p":2,"s":"fit","x":-4.94,"y":-0.271},{"p":2,"s":"fit","x":-5.3,"y":-0.3},{"p":2,"s":"fit","x":-5.73,"y":-0.35},{"p":2,"s":"fit","x":-6.0,"y":-0.39},{"p":2,"s":"fit","x":-6.2,"y":-0.43},{"p":2,"s":"fit","x":-6.36,"y":-0.48},{"p":2,"s":"fit","x":-6.6,"y":-0.58},{"p":2,"s":"fit","x":-6.9,"y":-0.62},{"p":2,"s":"fit","x":-7.13,"y":-0.48},{"p":2,"s":"fit","x":-7.22,"y":-0.35},{"p":2,"s":"fit","x":-7.31,"y":-0.219},{"p":2,"s":"fit","x":-7.43,"y":0.0},{"p":2,"s":"fit","x":-7.55,"y":0.198},{"p":2,"s":"fit","x":-7.7,"y":0.34},{"p":2,"s":"fit","x":-7.86,"y":0.394},{"p":2,"s":"fit","x":-8.05,"y":0.36},{"p":2,"s":"fit","x":-8.26,"y":0.302},{"p":2,"s":"fit","x":-8.5,"y":0.24},{"p":2,"s":"fit","x":-8.89,"y":0.172},{"p":2,"s":"fit","x":-9.3,"y":0.12},{"p":2,"s":"fit","x":-9.68,"y":0.081},{"p":2,"s":"fit","x":-10.47,"y":0.041},{"p":2,"s":"fit","x":-11.1,"y":0.025},{"p":2,"s":"fit","x":-11.8,"y":0.015},
{"p":3,"s":"raw","x":10.0,"y":-0.065},{"p":3,"s":"raw","x":9.92,"y":-0.075},{"p":3,"s":"raw","x":9.85,"y":-0.07},{"p":3,"s":"raw","x":9.75,"y":-0.078},{"p":3,"s":"raw","x":9.65,"y":-0.05},{"p":3,"s":"raw","x":9.58,"y":-0.06},{"p":3,"s":"raw","x":9.52,"y":-0.039},{"p":3,"s":"raw","x":9.45,"y":-0.05},{"p":3,"s":"raw","x":9.38,"y":-0.06},{"p":3,"s":"raw","x":9.29,"y":-0.065},{"p":3,"s":"raw","x":9.2,"y":-0.045},{"p":3,"s":"raw","x":9.12,"y":-0.05},{"p":3,"s":"raw","x":9.06,"y":-0.039},{"p":3,"s":"raw","x":8.95,"y":-0.05},{"p":3,"s":"raw","x":8.83,"y":-0.06},{"p":3,"s":"raw","x":8.72,"y":-0.04},{"p":3,"s":"raw","x":8.6,"y":-0.035},{"p":3,"s":"raw","x":8.53,"y":-0.026},{"p":3,"s":"raw","x":8.42,"y":-0.03},{"p":3,"s":"raw","x":8.3,"y":-0.026},{"p":3,"s":"raw","x":8.22,"y":-0.005},{"p":3,"s":"raw","x":8.15,"y":0.013},{"p":3,"s":"raw","x":8.05,"y":0.005},{"p":3,"s":"raw","x":7.92,"y":0.0},{"p":3,"s":"raw","x":7.85,"y":0.03},{"p":3,"s":"raw","x":7.77,"y":0.052},{"p":3,"s":"raw","x":7.65,"y":0.045},{"p":3,"s":"raw","x":7.55,"y":0.06},{"p":3,"s":"raw","x":7.46,"y":0.065},{"p":3,"s":"raw","x":7.35,"y":0.09},{"p":3,"s":"raw","x":7.23,"y":0.104},{"p":3,"s":"raw","x":7.12,"y":0.15},{"p":3,"s":"raw","x":7.0,"y":0.196},{"p":3,"s":"raw","x":6.9,"y":0.22},{"p":3,"s":"raw","x":6.78,"y":0.235},{"p":3,"s":"raw","x":6.65,"y":0.25},{"p":3,"s":"raw","x":6.55,"y":0.274},{"p":3,"s":"raw","x":6.45,"y":0.29},{"p":3,"s":"raw","x":6.38,"y":0.313},{"p":3,"s":"raw","x":6.3,"y":0.22},{"p":3,"s":"raw","x":6.2,"y":0.091},{"p":3,"s":"raw","x":6.12,"y":0.04},{"p":3,"s":"raw","x":6.05,"y":0.026},{"p":3,"s":"raw","x":5.95,"y":0.08},{"p":3,"s":"raw","x":5.86,"y":0.117},{"p":3,"s":"raw","x":5.78,"y":0.135},{"p":3,"s":"raw","x":5.71,"y":0.156},{"p":3,"s":"raw","x":5.6,"y":0.23},{"p":3,"s":"raw","x":5.48,"y":0.274},{"p":3,"s":"raw","x":5.38,"y":0.22},{"p":3,"s":"raw","x":5.25,"y":0.117},{"p":3,"s":"raw","x":5.12,"y":0.02},{"p":3,"s":"raw","x":5.02,"y":-0.065},{"p":3,"s":"raw","x":4.9,"y":-0.07},{"p":3,"s":"raw","x":4.79,"y":-0.091},{"p":3,"s":"raw","x":4.68,"y":-0.14},{"p":3,"s":"raw","x":4.56,"y":-0.183},{"p":3,"s":"raw","x":4.45,"y":-0.2},{"p":3,"s":"raw","x":4.33,"y":-0.222},{"p":3,"s":"raw","x":4.2,"y":-0.215},{"p":3,"s":"raw","x":4.1,"y":-0.261},{"p":3,"s":"raw","x":4.0,"y":-0.22},{"p":3,"s":"raw","x":3.92,"y":-0.196},{"p":3,"s":"raw","x":3.8,"y":-0.17},{"p":3,"s":"raw","x":3.65,"y":-0.156},{"p":3,"s":"raw","x":3.55,"y":-0.12},{"p":3,"s":"raw","x":3.42,"y":-0.078},{"p":3,"s":"raw","x":3.3,"y":-0.104},{"p":3,"s":"raw","x":3.2,"y":-0.05},{"p":3,"s":"raw","x":3.12,"y":-0.013},{"p":3,"s":"raw","x":3.02,"y":0.05},{"p":3,"s":"raw","x":2.95,"y":0.091},{"p":3,"s":"raw","x":2.85,"y":0.05},{"p":3,"s":"raw","x":2.78,"y":0.02},{"p":3,"s":"raw","x":2.7,"y":0.013},{"p":3,"s":"raw","x":2.6,"y":0.04},{"p":3,"s":"raw","x":2.5,"y":0.05},{"p":3,"s":"raw","x":2.43,"y":0.052},{"p":3,"s":"raw","x":2.3,"y":0.03},{"p":3,"s":"raw","x":2.2,"y":0.026},{"p":3,"s":"raw","x":2.1,"y":0.0},{"p":3,"s":"raw","x":1.97,"y":-0.039},{"p":3,"s":"raw","x":1.85,"y":-0.08},{"p":3,"s":"raw","x":1.75,"y":-0.11},{"p":3,"s":"raw","x":1.67,"y":-0.13},{"p":3,"s":"raw","x":1.58,"y":-0.14},{"p":3,"s":"raw","x":1.51,"y":-0.156},{"p":3,"s":"raw","x":1.4,"y":-0.14},{"p":3,"s":"raw","x":1.28,"y":-0.143},{"p":3,"s":"raw","x":1.15,"y":-0.13},{"p":3,"s":"raw","x":1.05,"y":-0.117},{"p":3,"s":"raw","x":0.95,"y":-0.1},{"p":3,"s":"raw","x":0.83,"y":-0.078},{"p":3,"s":"raw","x":0.75,"y":-0.06},{"p":3,"s":"raw","x":0.67,"y":0.0},{"p":3,"s":"raw","x":0.58,"y":0.02},{"p":3,"s":"raw","x":0.52,"y":0.013},{"p":3,"s":"raw","x":0.45,"y":0.1},{"p":3,"s":"raw","x":0.37,"y":0.18},{"p":3,"s":"raw","x":0.3,"y":0.2},{"p":3,"s":"raw","x":0.22,"y":0.248},{"p":3,"s":"raw","x":0.15,"y":0.43},{"p":3,"s":"raw","x":0.1,"y":0.56},{"p":3,"s":"raw","x":0.02,"y":0.9},{"p":3,"s":"raw","x":-0.04,"y":1.05},{"p":3,"s":"raw","x":-0.09,"y":1.082},{"p":3,"s":"raw","x":-0.15,"y":1.0},{"p":3,"s":"raw","x":-0.22,"y":0.85},{"p":3,"s":"raw","x":-0.29,"y":0.665},{"p":3,"s":"raw","x":-0.4,"y":0.4},{"p":3,"s":"raw","x":-0.52,"y":0.143},{"p":3,"s":"raw","x":-0.62,"y":0.0},{"p":3,"s":"raw","x":-0.76,"y":-0.091},{"p":3,"s":"raw","x":-0.88,"y":-0.13},{"p":3,"s":"raw","x":-1.0,"y":-0.156},{"p":3,"s":"raw","x":-1.1,"y":-0.16},{"p":3,"s":"raw","x":-1.2,"y":-0.17},{"p":3,"s":"raw","x":-1.3,"y":-0.18},{"p":3,"s":"raw","x":-1.39,"y":-0.196},{"p":3,"s":"raw","x":-1.5,"y":-0.18},{"p":3,"s":"raw","x":-1.63,"y":-0.156},{"p":3,"s":"raw","x":-1.75,"y":-0.16},{"p":3,"s":"raw","x":-1.87,"y":-0.156},{"p":3,"s":"raw","x":-1.98,"y":-0.06},{"p":3,"s":"raw","x":-2.1,"y":0.091},{"p":3,"s":"raw","x":-2.22,"y":0.28},{"p":3,"s":"raw","x":-2.34,"y":0.456},{"p":3,"s":"raw","x":-2.46,"y":0.59},{"p":3,"s":"raw","x":-2.58,"y":0.639},{"p":3,"s":"raw","x":-2.7,"y":0.56},{"p":3,"s":"raw","x":-2.81,"y":0.404},{"p":3,"s":"raw","x":-2.93,"y":0.24},{"p":3,"s":"raw","x":-3.05,"y":0.117},{"p":3,"s":"raw","x":-3.2,"y":0.07},{"p":3,"s":"raw","x":-3.36,"y":0.052},{"p":3,"s":"raw","x":-3.48,"y":0.04},{"p":3,"s":"raw","x":-3.6,"y":0.013},{"p":3,"s":"raw","x":-3.72,"y":-0.03},{"p":3,"s":"raw","x":-3.84,"y":-0.078},{"p":3,"s":"raw","x":-3.95,"y":-0.045},{"p":3,"s":"raw","x":-4.07,"y":-0.052},{"p":3,"s":"raw","x":-4.2,"y":-0.065},{"p":3,"s":"raw","x":-4.31,"y":-0.078},{"p":3,"s":"raw","x":-4.42,"y":-0.09},{"p":3,"s":"raw","x":-4.55,"y":-0.104},{"p":3,"s":"raw","x":-4.7,"y":-0.08},{"p":3,"s":"raw","x":-4.86,"y":-0.091},{"p":3,"s":"raw","x":-5.0,"y":-0.12},{"p":3,"s":"raw","x":-5.18,"y":-0.143},{"p":3,"s":"raw","x":-5.3,"y":-0.14},{"p":3,"s":"raw","x":-5.42,"y":-0.17},{"p":3,"s":"raw","x":-5.49,"y":-0.183},{"p":3,"s":"raw","x":-5.57,"y":-0.16},{"p":3,"s":"raw","x":-5.65,"y":-0.209},{"p":3,"s":"raw","x":-5.75,"y":-0.21},{"p":3,"s":"raw","x":-5.89,"y":-0.235},{"p":3,"s":"raw","x":-6.0,"y":-0.225},{"p":3,"s":"raw","x":-6.13,"y":-0.261},{"p":3,"s":"raw","x":-6.25,"y":-0.24},{"p":3,"s":"raw","x":-6.36,"y":-0.248},{"p":3,"s":"raw","x":-6.48,"y":-0.3},{"p":3,"s":"raw","x":-6.6,"y":-0.352},{"p":3,"s":"raw","x":-6.7,"y":-0.33},{"p":3,"s":"raw","x":-6.84,"y":-0.352},{"p":3,"s":"raw","x":-6.92,"y":-0.33},{"p":3,"s":"raw","x":-6.99,"y":-0.378},{"p":3,"s":"raw","x":-7.08,"y":-0.39},{"p":3,"s":"raw","x":-7.15,"y":-0.417},{"p":3,"s":"raw","x":-7.23,"y":-0.43},{"p":3,"s":"raw","x":-7.28,"y":-0.47},{"p":3,"s":"raw","x":-7.33,"y":-0.44},{"p":3,"s":"raw","x":-7.4,"y":-0.36},{"p":3,"s":"raw","x":-7.47,"y":-0.274},{"p":3,"s":"raw","x":-7.55,"y":-0.1},{"p":3,"s":"raw","x":-7.63,"y":0.039},{"p":3,"s":"raw","x":-7.72,"y":0.2},{"p":3,"s":"raw","x":-7.82,"y":0.261},{"p":3,"s":"raw","x":-7.92,"y":0.24},{"p":3,"s":"raw","x":-8.0,"y":0.2},{"p":3,"s":"raw","x":-8.06,"y":0.183},{"p":3,"s":"raw","x":-8.15,"y":0.22},{"p":3,"s":"raw","x":-8.26,"y":0.248},{"p":3,"s":"raw","x":-8.4,"y":0.22},{"p":3,"s":"raw","x":-8.52,"y":0.21},{"p":3,"s":"raw","x":-8.65,"y":0.209},{"p":3,"s":"raw","x":-8.75,"y":0.17},{"p":3,"s":"raw","x":-8.89,"y":0.13},{"p":3,"s":"raw","x":-9.05,"y":0.12},{"p":3,"s":"raw","x":-9.2,"y":0.11},{"p":3,"s":"raw","x":-9.36,"y":0.091},{"p":3,"s":"raw","x":-9.5,"y":0.1},{"p":3,"s":"raw","x":-9.65,"y":0.095},{"p":3,"s":"raw","x":-9.84,"y":0.091},{"p":3,"s":"raw","x":-9.95,"y":0.1},{"p":3,"s":"raw","x":-10.07,"y":0.117},{"p":3,"s":"raw","x":-10.15,"y":0.09},{"p":3,"s":"raw","x":-10.25,"y":0.11},{"p":3,"s":"raw","x":-10.31,"y":0.13},{"p":3,"s":"raw","x":-10.4,"y":0.1},{"p":3,"s":"raw","x":-10.47,"y":0.078},{"p":3,"s":"raw","x":-10.6,"y":0.085},{"p":3,"s":"raw","x":-10.75,"y":0.09},{"p":3,"s":"raw","x":-10.9,"y":0.104},{"p":3,"s":"raw","x":-11.0,"y":0.085},{"p":3,"s":"raw","x":-11.1,"y":0.07},{"p":3,"s":"raw","x":-11.26,"y":0.052},{"p":3,"s":"raw","x":-11.4,"y":0.04},{"p":3,"s":"raw","x":-11.55,"y":0.03},{"p":3,"s":"raw","x":-11.7,"y":0.01},{"p":3,"s":"raw","x":-11.8,"y":0.0},
{"p":3,"s":"fit","x":10.0,"y":-0.026},{"p":3,"s":"fit","x":9.0,"y":-0.018},{"p":3,"s":"fit","x":8.5,"y":-0.005},{"p":3,"s":"fit","x":7.99,"y":0.026},{"p":3,"s":"fit","x":7.7,"y":0.055},{"p":3,"s":"fit","x":7.39,"y":0.091},{"p":3,"s":"fit","x":7.15,"y":0.14},{"p":3,"s":"fit","x":6.93,"y":0.209},{"p":3,"s":"fit","x":6.7,"y":0.28},{"p":3,"s":"fit","x":6.55,"y":0.32},{"p":3,"s":"fit","x":6.49,"y":0.326},{"p":3,"s":"fit","x":6.38,"y":0.28},{"p":3,"s":"fit","x":6.24,"y":0.17},{"p":3,"s":"fit","x":6.1,"y":0.07},{"p":3,"s":"fit","x":6.01,"y":0.039},{"p":3,"s":"fit","x":5.85,"y":0.08},{"p":3,"s":"fit","x":5.71,"y":0.143},{"p":3,"s":"fit","x":5.58,"y":0.24},{"p":3,"s":"fit","x":5.48,"y":0.274},{"p":3,"s":"fit","x":5.38,"y":0.23},{"p":3,"s":"fit","x":5.25,"y":0.143},{"p":3,"s":"fit","x":5.1,"y":0.03},{"p":3,"s":"fit","x":4.94,"y":-0.065},{"p":3,"s":"fit","x":4.75,"y":-0.13},{"p":3,"s":"fit","x":4.56,"y":-0.17},{"p":3,"s":"fit","x":4.18,"y":-0.222},{"p":3,"s":"fit","x":3.8,"y":-0.17},{"p":3,"s":"fit","x":3.42,"y":-0.091},{"p":3,"s":"fit","x":3.19,"y":-0.026},{"p":3,"s":"fit","x":3.05,"y":0.04},{"p":3,"s":"fit","x":2.96,"y":0.078},{"p":3,"s":"fit","x":2.85,"y":0.05},{"p":3,"s":"fit","x":2.7,"y":0.026},{"p":3,"s":"fit","x":2.55,"y":0.05},{"p":3,"s":"fit","x":2.43,"y":0.052},{"p":3,"s":"fit","x":2.3,"y":0.04},{"p":3,"s":"fit","x":2.2,"y":0.013},{"p":3,"s":"fit","x":2.05,"y":-0.035},{"p":3,"s":"fit","x":1.89,"y":-0.078},{"p":3,"s":"fit","x":1.59,"y":-0.13},{"p":3,"s":"fit","x":1.21,"y":-0.13},{"p":3,"s":"fit","x":0.83,"y":-0.078},{"p":3,"s":"fit","x":0.65,"y":-0.02},{"p":3,"s":"fit","x":0.52,"y":0.039},{"p":3,"s":"fit","x":0.4,"y":0.14},{"p":3,"s":"fit","x":0.29,"y":0.3},{"p":3,"s":"fit","x":0.2,"y":0.53},{"p":3,"s":"fit","x":0.14,"y":0.717},{"p":3,"s":"fit","x":0.05,"y":0.95},{"p":3,"s":"fit","x":-0.02,"y":1.06},{"p":3,"s":"fit","x":-0.08,"y":1.082},{"p":3,"s":"fit","x":-0.15,"y":0.99},{"p":3,"s":"fit","x":-0.22,"y":0.78},{"p":3,"s":"fit","x":-0.29,"y":0.561},{"p":3,"s":"fit","x":-0.4,"y":0.28},{"p":3,"s":"fit","x":-0.52,"y":0.091},{"p":3,"s":"fit","x":-0.62,"y":0.0},{"p":3,"s":"fit","x":-0.76,"y":-0.065},{"p":3,"s":"fit","x":-0.95,"y":-0.12},{"p":3,"s":"fit","x":-1.15,"y":-0.156},{"p":3,"s":"fit","x":-1.63,"y":-0.17},{"p":3,"s":"fit","x":-1.8,"y":-0.14},{"p":3,"s":"fit","x":-1.94,"y":-0.091},{"p":3,"s":"fit","x":-2.06,"y":0.05},{"p":3,"s":"fit","x":-2.18,"y":0.248},{"p":3,"s":"fit","x":-2.3,"y":0.44},{"p":3,"s":"fit","x":-2.42,"y":0.561},{"p":3,"s":"fit","x":-2.5,"y":0.62},{"p":3,"s":"fit","x":-2.58,"y":0.639},{"p":3,"s":"fit","x":-2.65,"y":0.6},{"p":3,"s":"fit","x":-2.73,"y":0.509},{"p":3,"s":"fit","x":-2.85,"y":0.33},{"p":3,"s":"fit","x":-2.97,"y":0.196},{"p":3,"s":"fit","x":-3.15,"y":0.1},{"p":3,"s":"fit","x":-3.36,"y":0.039},{"p":3,"s":"fit","x":-3.6,"y":-0.01},{"p":3,"s":"fit","x":-3.84,"y":-0.052},{"p":3,"s":"fit","x":-4.55,"y":-0.104},{"p":3,"s":"fit","x":-5.34,"y":-0.156},{"p":3,"s":"fit","x":-5.8,"y":-0.19},{"p":3,"s":"fit","x":-6.13,"y":-0.222},{"p":3,"s":"fit","x":-6.35,"y":-0.26},{"p":3,"s":"fit","x":-6.52,"y":-0.3},{"p":3,"s":"fit","x":-6.72,"y":-0.35},{"p":3,"s":"fit","x":-6.92,"y":-0.391},{"p":3,"s":"fit","x":-7.1,"y":-0.44},{"p":3,"s":"fit","x":-7.23,"y":-0.469},{"p":3,"s":"fit","x":-7.35,"y":-0.38},{"p":3,"s":"fit","x":-7.47,"y":-0.222},{"p":3,"s":"fit","x":-7.57,"y":-0.05},{"p":3,"s":"fit","x":-7.67,"y":0.117},{"p":3,"s":"fit","x":-7.76,"y":0.21},{"p":3,"s":"fit","x":-7.86,"y":0.261},{"p":3,"s":"fit","x":-8.02,"y":0.287},{"p":3,"s":"fit","x":-8.2,"y":0.26},{"p":3,"s":"fit","x":-8.49,"y":0.196},{"p":3,"s":"fit","x":-8.89,"y":0.13},{"p":3,"s":"fit","x":-9.3,"y":0.1},{"p":3,"s":"fit","x":-9.68,"y":0.078},{"p":3,"s":"fit","x":-10.47,"y":0.052},{"p":3,"s":"fit","x":-11.1,"y":0.03},{"p":3,"s":"fit","x":-11.8,"y":0.013},
{"p":4,"s":"raw","x":10.0,"y":-0.022},{"p":4,"s":"raw","x":9.95,"y":0.01},{"p":4,"s":"raw","x":9.9,"y":0.03},{"p":4,"s":"raw","x":9.85,"y":0.025},{"p":4,"s":"raw","x":9.79,"y":0.017},{"p":4,"s":"raw","x":9.72,"y":-0.03},{"p":4,"s":"raw","x":9.67,"y":-0.049},{"p":4,"s":"raw","x":9.58,"y":-0.03},{"p":4,"s":"raw","x":9.52,"y":-0.035},{"p":4,"s":"raw","x":9.45,"y":-0.022},{"p":4,"s":"raw","x":9.38,"y":-0.025},{"p":4,"s":"raw","x":9.3,"y":-0.02},{"p":4,"s":"raw","x":9.22,"y":-0.035},{"p":4,"s":"raw","x":9.14,"y":-0.01},{"p":4,"s":"raw","x":9.06,"y":0.017},{"p":4,"s":"raw","x":8.98,"y":0.0},{"p":4,"s":"raw","x":8.9,"y":0.005},{"p":4,"s":"raw","x":8.83,"y":-0.009},{"p":4,"s":"raw","x":8.72,"y":0.005},{"p":4,"s":"raw","x":8.61,"y":0.009},{"p":4,"s":"raw","x":8.5,"y":0.01},{"p":4,"s":"raw","x":8.42,"y":0.0},{"p":4,"s":"raw","x":8.34,"y":0.017},{"p":4,"s":"raw","x":8.25,"y":0.02},{"p":4,"s":"raw","x":8.15,"y":0.03},{"p":4,"s":"raw","x":8.07,"y":0.005},{"p":4,"s":"raw","x":7.99,"y":0.004},{"p":4,"s":"raw","x":7.9,"y":0.02},{"p":4,"s":"raw","x":7.8,"y":0.043},{"p":4,"s":"raw","x":7.75,"y":0.02},{"p":4,"s":"raw","x":7.69,"y":0.017},{"p":4,"s":"raw","x":7.62,"y":0.04},{"p":4,"s":"raw","x":7.54,"y":0.069},{"p":4,"s":"raw","x":7.45,"y":0.07},{"p":4,"s":"raw","x":7.38,"y":0.065},{"p":4,"s":"raw","x":7.31,"y":0.069},{"p":4,"s":"raw","x":7.2,"y":0.06},{"p":4,"s":"raw","x":7.08,"y":0.043},{"p":4,"s":"raw","x":6.95,"y":0.05},{"p":4,"s":"raw","x":6.85,"y":0.055},{"p":4,"s":"raw","x":6.78,"y":0.056},{"p":4,"s":"raw","x":6.7,"y":0.03},{"p":4,"s":"raw","x":6.62,"y":0.06},{"p":4,"s":"raw","x":6.55,"y":0.082},{"p":4,"s":"raw","x":6.48,"y":0.082},{"p":4,"s":"raw","x":6.4,"y":0.082},{"p":4,"s":"raw","x":6.33,"y":0.12},{"p":4,"s":"raw","x":6.28,"y":0.16},{"p":4,"s":"raw","x":6.2,"y":0.14},{"p":4,"s":"raw","x":6.09,"y":0.108},{"p":4,"s":"raw","x":6.0,"y":0.1},{"p":4,"s":"raw","x":5.9,"y":0.07},{"p":4,"s":"raw","x":5.78,"y":0.043},{"p":4,"s":"raw","x":5.7,"y":0.06},{"p":4,"s":"raw","x":5.63,"y":0.082},{"p":4,"s":"raw","x":5.55,"y":0.11},{"p":4,"s":"raw","x":5.44,"y":0.134},{"p":4,"s":"raw","x":5.35,"y":0.12},{"p":4,"s":"raw","x":5.25,"y":0.095},{"p":4,"s":"raw","x":5.15,"y":0.09},{"p":4,"s":"raw","x":5.02,"y":0.082},{"p":4,"s":"raw","x":4.95,"y":0.04},{"p":4,"s":"raw","x":4.87,"y":-0.009},{"p":4,"s":"raw","x":4.78,"y":-0.04},{"p":4,"s":"raw","x":4.68,"y":-0.075},{"p":4,"s":"raw","x":4.58,"y":-0.12},{"p":4,"s":"raw","x":4.49,"y":-0.153},{"p":4,"s":"raw","x":4.4,"y":-0.14},{"p":4,"s":"raw","x":4.3,"y":-0.153},{"p":4,"s":"raw","x":4.18,"y":-0.13},{"p":4,"s":"raw","x":4.03,"y":-0.127},{"p":4,"s":"raw","x":3.9,"y":-0.11},{"p":4,"s":"raw","x":3.8,"y":-0.1},{"p":4,"s":"raw","x":3.72,"y":-0.087},{"p":4,"s":"raw","x":3.6,"y":-0.08},{"p":4,"s":"raw","x":3.5,"y":-0.075},{"p":4,"s":"raw","x":3.4,"y":-0.04},{"p":4,"s":"raw","x":3.32,"y":0.0},{"p":4,"s":"raw","x":3.27,"y":0.017},{"p":4,"s":"raw","x":3.2,"y":0.0},{"p":4,"s":"raw","x":3.12,"y":-0.022},{"p":4,"s":"raw","x":3.0,"y":-0.045},{"p":4,"s":"raw","x":2.89,"y":-0.061},{"p":4,"s":"raw","x":2.75,"y":-0.04},{"p":4,"s":"raw","x":2.65,"y":-0.03},{"p":4,"s":"raw","x":2.58,"y":-0.022},{"p":4,"s":"raw","x":2.45,"y":-0.015},{"p":4,"s":"raw","x":2.35,"y":-0.009},{"p":4,"s":"raw","x":2.28,"y":-0.03},{"p":4,"s":"raw","x":2.2,"y":-0.061},{"p":4,"s":"raw","x":2.12,"y":-0.04},{"p":4,"s":"raw","x":2.05,"y":-0.022},{"p":4,"s":"raw","x":1.95,"y":-0.045},{"p":4,"s":"raw","x":1.82,"y":-0.075},{"p":4,"s":"raw","x":1.7,"y":-0.06},{"p":4,"s":"raw","x":1.59,"y":-0.075},{"p":4,"s":"raw","x":1.48,"y":-0.07},{"p":4,"s":"raw","x":1.36,"y":-0.061},{"p":4,"s":"raw","x":1.25,"y":-0.08},{"p":4,"s":"raw","x":1.13,"y":-0.087},{"p":4,"s":"raw","x":1.02,"y":-0.05},{"p":4,"s":"raw","x":0.9,"y":0.004},{"p":4,"s":"raw","x":0.78,"y":0.02},{"p":4,"s":"raw","x":0.67,"y":0.043},{"p":4,"s":"raw","x":0.6,"y":0.08},{"p":4,"s":"raw","x":0.52,"y":0.147},{"p":4,"s":"raw","x":0.45,"y":0.23},{"p":4,"s":"raw","x":0.37,"y":0.317},{"p":4,"s":"raw","x":0.3,"y":0.4},{"p":4,"s":"raw","x":0.22,"y":0.473},{"p":4,"s":"raw","x":0.12,"y":0.58},{"p":4,"s":"raw","x":0.05,"y":0.66},{"p":4,"s":"raw","x":-0.01,"y":0.721},{"p":4,"s":"raw","x":-0.08,"y":0.62},{"p":4,"s":"raw","x":-0.14,"y":0.5},{"p":4,"s":"raw","x":-0.21,"y":0.447},{"p":4,"s":"raw","x":-0.3,"y":0.38},{"p":4,"s":"raw","x":-0.44,"y":0.291},{"p":4,"s":"raw","x":-0.55,"y":0.2},{"p":4,"s":"raw","x":-0.68,"y":0.108},{"p":4,"s":"raw","x":-0.8,"y":0.02},{"p":4,"s":"raw","x":-0.92,"y":-0.049},{"p":4,"s":"raw","x":-1.0,"y":-0.06},{"p":4,"s":"raw","x":-1.08,"y":-0.075},{"p":4,"s":"raw","x":-1.2,"y":-0.08},{"p":4,"s":"raw","x":-1.31,"y":-0.114},{"p":4,"s":"raw","x":-1.45,"y":-0.1},{"p":4,"s":"raw","x":-1.55,"y":-0.09},{"p":4,"s":"raw","x":-1.63,"y":-0.087},{"p":4,"s":"raw","x":-1.75,"y":-0.07},{"p":4,"s":"raw","x":-1.87,"y":-0.061},{"p":4,"s":"raw","x":-2.0,"y":0.04},{"p":4,"s":"raw","x":-2.1,"y":0.14},{"p":4,"s":"raw","x":-2.18,"y":0.186},{"p":4,"s":"raw","x":-2.3,"y":0.23},{"p":4,"s":"raw","x":-2.42,"y":0.238},{"p":4,"s":"raw","x":-2.5,"y":0.238},{"p":4,"s":"raw","x":-2.6,"y":0.2},{"p":4,"s":"raw","x":-2.73,"y":0.173},{"p":4,"s":"raw","x":-2.85,"y":0.14},{"p":4,"s":"raw","x":-2.97,"y":0.108},{"p":4,"s":"raw","x":-3.1,"y":0.1},{"p":4,"s":"raw","x":-3.21,"y":0.069},{"p":4,"s":"raw","x":-3.3,"y":0.04},{"p":4,"s":"raw","x":-3.44,"y":0.004},{"p":4,"s":"raw","x":-3.56,"y":-0.049},{"p":4,"s":"raw","x":-3.65,"y":-0.01},{"p":4,"s":"raw","x":-3.75,"y":-0.02},{"p":4,"s":"raw","x":-3.84,"y":-0.009},{"p":4,"s":"raw","x":-3.95,"y":-0.06},{"p":4,"s":"raw","x":-4.07,"y":-0.101},{"p":4,"s":"raw","x":-4.18,"y":-0.09},{"p":4,"s":"raw","x":-4.31,"y":-0.127},{"p":4,"s":"raw","x":-4.45,"y":-0.1},{"p":4,"s":"raw","x":-4.55,"y":-0.105},{"p":4,"s":"raw","x":-4.63,"y":-0.114},{"p":4,"s":"raw","x":-4.75,"y":-0.12},{"p":4,"s":"raw","x":-4.85,"y":-0.14},{"p":4,"s":"raw","x":-4.94,"y":-0.153},{"p":4,"s":"raw","x":-5.05,"y":-0.13},{"p":4,"s":"raw","x":-5.15,"y":-0.14},{"p":4,"s":"raw","x":-5.26,"y":-0.14},{"p":4,"s":"raw","x":-5.35,"y":-0.15},{"p":4,"s":"raw","x":-5.42,"y":-0.153},{"p":4,"s":"raw","x":-5.55,"y":-0.17},{"p":4,"s":"raw","x":-5.65,"y":-0.192},{"p":4,"s":"raw","x":-5.72,"y":-0.16},{"p":4,"s":"raw","x":-5.81,"y":-0.14},{"p":4,"s":"raw","x":-5.9,"y":-0.17},{"p":4,"s":"raw","x":-6.0,"y":-0.18},{"p":4,"s":"raw","x":-6.13,"y":-0.192},{"p":4,"s":"raw","x":-6.25,"y":-0.19},{"p":4,"s":"raw","x":-6.36,"y":-0.205},{"p":4,"s":"raw","x":-6.48,"y":-0.2},{"p":4,"s":"raw","x":-6.6,"y":-0.244},{"p":4,"s":"raw","x":-6.7,"y":-0.23},{"p":4,"s":"raw","x":-6.84,"y":-0.231},{"p":4,"s":"raw","x":-6.95,"y":-0.225},{"p":4,"s":"raw","x":-7.07,"y":-0.205},{"p":4,"s":"raw","x":-7.2,"y":-0.16},{"p":4,"s":"raw","x":-7.31,"y":-0.101},{"p":4,"s":"raw","x":-7.4,"y":0.0},{"p":4,"s":"raw","x":-7.47,"y":0.082},{"p":4,"s":"raw","x":-7.58,"y":0.15},{"p":4,"s":"raw","x":-7.7,"y":0.173},{"p":4,"s":"raw","x":-7.82,"y":0.165},{"p":4,"s":"raw","x":-7.94,"y":0.147},{"p":4,"s":"raw","x":-8.02,"y":0.16},{"p":4,"s":"raw","x":-8.1,"y":0.16},{"p":4,"s":"raw","x":-8.2,"y":0.17},{"p":4,"s":"raw","x":-8.34,"y":0.199},{"p":4,"s":"raw","x":-8.45,"y":0.16},{"p":4,"s":"raw","x":-8.57,"y":0.134},{"p":4,"s":"raw","x":-8.7,"y":0.15},{"p":4,"s":"raw","x":-8.81,"y":0.147},{"p":4,"s":"raw","x":-8.92,"y":0.13},{"p":4,"s":"raw","x":-9.05,"y":0.121},{"p":4,"s":"raw","x":-9.15,"y":0.13},{"p":4,"s":"raw","x":-9.25,"y":0.12},{"p":4,"s":"raw","x":-9.36,"y":0.108},{"p":4,"s":"raw","x":-9.5,"y":0.1},{"p":4,"s":"raw","x":-9.6,"y":0.09},{"p":4,"s":"raw","x":-9.68,"y":0.082},{"p":4,"s":"raw","x":-9.76,"y":0.07},{"p":4,"s":"raw","x":-9.84,"y":0.069},{"p":4,"s":"raw","x":-9.95,"y":0.08},{"p":4,"s":"raw","x":-10.07,"y":0.082},{"p":4,"s":"raw","x":-10.2,"y":0.07},{"p":4,"s":"raw","x":-10.3,"y":0.06},{"p":4,"s":"raw","x":-10.39,"y":0.056},{"p":4,"s":"raw","x":-10.47,"y":0.07},{"p":4,"s":"raw","x":-10.55,"y":0.069},{"p":4,"s":"raw","x":-10.65,"y":0.05},{"p":4,"s":"raw","x":-10.78,"y":0.03},{"p":4,"s":"raw","x":-10.9,"y":0.04},{"p":4,"s":"raw","x":-11.0,"y":0.05},{"p":4,"s":"raw","x":-11.1,"y":0.056},{"p":4,"s":"raw","x":-11.2,"y":0.06},{"p":4,"s":"raw","x":-11.3,"y":0.07},{"p":4,"s":"raw","x":-11.4,"y":0.075},{"p":4,"s":"raw","x":-11.49,"y":0.082},{"p":4,"s":"raw","x":-11.6,"y":0.05},{"p":4,"s":"raw","x":-11.7,"y":0.03},{"p":4,"s":"raw","x":-11.8,"y":0.017},
{"p":4,"s":"fit","x":10.0,"y":-0.009},{"p":4,"s":"fit","x":9.0,"y":-0.004},{"p":4,"s":"fit","x":8.5,"y":0.0},{"p":4,"s":"fit","x":7.99,"y":0.009},{"p":4,"s":"fit","x":7.39,"y":0.043},{"p":4,"s":"fit","x":6.85,"y":0.082},{"p":4,"s":"fit","x":6.5,"y":0.12},{"p":4,"s":"fit","x":6.28,"y":0.147},{"p":4,"s":"fit","x":6.05,"y":0.11},{"p":4,"s":"fit","x":5.86,"y":0.082},{"p":4,"s":"fit","x":5.65,"y":0.09},{"p":4,"s":"fit","x":5.48,"y":0.095},{"p":4,"s":"fit","x":5.25,"y":0.09},{"p":4,"s":"fit","x":5.06,"y":0.082},{"p":4,"s":"fit","x":4.92,"y":0.02},{"p":4,"s":"fit","x":4.79,"y":-0.035},{"p":4,"s":"fit","x":4.65,"y":-0.09},{"p":4,"s":"fit","x":4.49,"y":-0.127},{"p":4,"s":"fit","x":4.18,"y":-0.127},{"p":4,"s":"fit","x":3.72,"y":-0.1},{"p":4,"s":"fit","x":3.5,"y":-0.075},{"p":4,"s":"fit","x":3.42,"y":-0.061},{"p":4,"s":"fit","x":3.35,"y":-0.02},{"p":4,"s":"fit","x":3.27,"y":0.017},{"p":4,"s":"fit","x":3.17,"y":-0.01},{"p":4,"s":"fit","x":3.04,"y":-0.048},{"p":4,"s":"fit","x":2.66,"y":-0.035},{"p":4,"s":"fit","x":2.4,"y":-0.02},{"p":4,"s":"fit","x":2.2,"y":-0.009},{"p":4,"s":"fit","x":2.05,"y":-0.03},{"p":4,"s":"fit","x":1.89,"y":-0.061},{"p":4,"s":"fit","x":1.59,"y":-0.088},{"p":4,"s":"fit","x":1.35,"y":-0.085},{"p":4,"s":"fit","x":1.13,"y":-0.061},{"p":4,"s":"fit","x":0.95,"y":-0.02},{"p":4,"s":"fit","x":0.83,"y":0.017},{"p":4,"s":"fit","x":0.68,"y":0.1},{"p":4,"s":"fit","x":0.52,"y":0.212},{"p":4,"s":"fit","x":0.37,"y":0.35},{"p":4,"s":"fit","x":0.22,"y":0.499},{"p":4,"s":"fit","x":0.1,"y":0.62},{"p":4,"s":"fit","x":-0.01,"y":0.695},{"p":4,"s":"fit","x":-0.1,"y":0.62},{"p":4,"s":"fit","x":-0.21,"y":0.499},{"p":4,"s":"fit","x":-0.32,"y":0.36},{"p":4,"s":"fit","x":-0.44,"y":0.238},{"p":4,"s":"fit","x":-0.58,"y":0.12},{"p":4,"s":"fit","x":-0.72,"y":0.03},{"p":4,"s":"fit","x":-0.85,"y":-0.025},{"p":4,"s":"fit","x":-1.0,"y":-0.061},{"p":4,"s":"fit","x":-1.2,"y":-0.09},{"p":4,"s":"fit","x":-1.39,"y":-0.1},{"p":4,"s":"fit","x":-1.55,"y":-0.095},{"p":4,"s":"fit","x":-1.71,"y":-0.074},{"p":4,"s":"fit","x":-1.82,"y":-0.03},{"p":4,"s":"fit","x":-1.94,"y":0.03},{"p":4,"s":"fit","x":-2.06,"y":0.1},{"p":4,"s":"fit","x":-2.18,"y":0.16},{"p":4,"s":"fit","x":-2.32,"y":0.215},{"p":4,"s":"fit","x":-2.46,"y":0.238},{"p":4,"s":"fit","x":-2.6,"y":0.22},{"p":4,"s":"fit","x":-2.73,"y":0.186},{"p":4,"s":"fit","x":-2.95,"y":0.12},{"p":4,"s":"fit","x":-3.21,"y":0.056},{"p":4,"s":"fit","x":-3.5,"y":0.005},{"p":4,"s":"fit","x":-3.84,"y":-0.035},{"p":4,"s":"fit","x":-4.55,"y":-0.087},{"p":4,"s":"fit","x":-5.34,"y":-0.14},{"p":4,"s":"fit","x":-6.13,"y":-0.205},{"p":4,"s":"fit","x":-6.45,"y":-0.235},{"p":4,"s":"fit","x":-6.68,"y":-0.244},{"p":4,"s":"fit","x":-6.85,"y":-0.245},{"p":4,"s":"fit","x":-6.99,"y":-0.231},{"p":4,"s":"fit","x":-7.12,"y":-0.19},{"p":4,"s":"fit","x":-7.23,"y":-0.127},{"p":4,"s":"fit","x":-7.35,"y":-0.05},{"p":4,"s":"fit","x":-7.47,"y":0.03},{"p":4,"s":"fit","x":-7.58,"y":0.1},{"p":4,"s":"fit","x":-7.7,"y":0.147},{"p":4,"s":"fit","x":-7.85,"y":0.175},{"p":4,"s":"fit","x":-8.02,"y":0.186},{"p":4,"s":"fit","x":-8.34,"y":0.174},{"p":4,"s":"fit","x":-8.89,"y":0.134},{"p":4,"s":"fit","x":-9.3,"y":0.105},{"p":4,"s":"fit","x":-9.68,"y":0.082},{"p":4,"s":"fit","x":-10.47,"y":0.043},{"p":4,"s":"fit","x":-11.1,"y":0.03},{"p":4,"s":"fit","x":-11.8,"y":0.017}
  ]
},
"vconcat": [
{
  "width": 1458.1, "height": 342.5,
  "encoding": {
    "x": {"field": "x", "type": "quantitative", "scale": {"domain": [-11.8, 10], "reverse": true, "nice": false, "zero": false},
      "axis": {"values": [10, 5, 0, -5, -10], "domainColor": "#0000ff", "tickColor": "#0000ff", "domainWidth": 5, "tickWidth": 3, "tickSize": -17, "labels": false, "title": null, "zindex": 1}},
    "y": {"field": "y", "type": "quantitative", "scale": {"domain": [-0.48, 2.2], "nice": false, "zero": false},
      "axis": {"values": [0, 1, 2], "domainColor": "#0000ff", "tickColor": "#0000ff", "domainWidth": 4, "tickWidth": 4.5, "tickSize": -18, "labelPadding": 32.6, "labelOffset": 2, "title": null, "zindex": 1}}
  },
  "layer": [
    {"data": {"name": "dash"}, "transform": [{"filter": "datum.p == 1"}], "mark": {"type": "rule", "strokeDash": [10, 6], "color": "#a6a6a6", "strokeWidth": 1.5}, "encoding": {"y2": {"field": "y2"}}},
    {"data": {"name": "spec"}, "transform": [{"filter": "datum.p == 1 && datum.s == 'raw'"}], "mark": {"type": "line", "clip": true, "strokeWidth": 2, "interpolate": "linear"},
      "encoding": {"color": {"field": "s", "type": "nominal", "scale": {"domain": ["raw", "fit"], "range": ["#000000", "#ff0000"]},
        "legend": {"title": null, "orient": "none", "legendX": 1273.4, "legendY": 17.9, "symbolType": "stroke", "symbolSize": 7396, "symbolStrokeWidth": 1.5, "clipHeight": 48, "rowPadding": 6, "padding": 8, "labelOffset": 7, "labelFont": "Liberation Sans", "labelFontSize": 40, "labelColor": "#000000", "fillColor": "#ffffff", "strokeColor": "#6e6e6e"}}}},
    {"data": {"name": "spec"}, "transform": [{"filter": "datum.p == 1 && datum.s == 'fit'"}], "mark": {"type": "line", "clip": true, "strokeWidth": 1.8, "interpolate": "monotone"},
      "encoding": {"color": {"field": "s", "type": "nominal", "scale": {"domain": ["raw", "fit"], "range": ["#000000", "#ff0000"]},
        "legend": {"title": null, "orient": "none", "legendX": 1273.4, "legendY": 17.9, "symbolType": "stroke", "symbolSize": 7396, "symbolStrokeWidth": 1.5, "clipHeight": 48, "rowPadding": 6, "padding": 8, "labelOffset": 7, "labelFont": "Liberation Sans", "labelFontSize": 40, "labelColor": "#000000", "fillColor": "#ffffff", "strokeColor": "#6e6e6e"}}}},
    {"data": {"name": "ann"}, "transform": [{"filter": "datum.p == 1 && datum.k == 'snr'"}], "mark": {"type": "text", "align": "left", "baseline": "alphabetic", "font": "Liberation Sans", "fontWeight": "bold", "fontSize": 45, "color": "#000000"}, "encoding": {"text": {"field": "t"}}},
    {"data": {"name": "ann"}, "transform": [{"filter": "datum.p == 1 && datum.k == 'lab'"}], "mark": {"type": "text", "align": "left", "baseline": "alphabetic", "font": "Liberation Sans", "fontWeight": "bold", "fontSize": 39, "color": "#000000"}, "encoding": {"text": {"field": "t"}}},
    {"data": {"name": "ann"}, "transform": [{"filter": "datum.p == 1 && datum.k == 'greek'"}], "mark": {"type": "text", "align": "left", "baseline": "alphabetic", "font": "Liberation Serif", "fontStyle": "italic", "fontSize": 44, "color": "#000000"}, "encoding": {"text": {"field": "t"}}}
  ]
},
{
  "width": 1458.1, "height": 342.5,
  "encoding": {
    "x": {"field": "x", "type": "quantitative", "scale": {"domain": [-11.8, 10], "reverse": true, "nice": false, "zero": false},
      "axis": {"values": [10, 5, 0, -5, -10], "domainColor": "#ff0000", "tickColor": "#ff0000", "domainWidth": 5, "tickWidth": 3, "tickSize": -17, "labels": false, "title": null, "zindex": 1}},
    "y": {"field": "y", "type": "quantitative", "scale": {"domain": [-0.48, 2.2], "nice": false, "zero": false},
      "axis": {"values": [0, 1, 2], "domainColor": "#ff0000", "tickColor": "#ff0000", "domainWidth": 4, "tickWidth": 4.5, "tickSize": -18, "labelPadding": 32.6, "labelOffset": 2, "title": null, "zindex": 1}}
  },
  "layer": [
    {"data": {"name": "dash"}, "transform": [{"filter": "datum.p == 2"}], "mark": {"type": "rule", "strokeDash": [10, 6], "color": "#a6a6a6", "strokeWidth": 1.5}, "encoding": {"y2": {"field": "y2"}}},
    {"data": {"name": "spec"}, "transform": [{"filter": "datum.p == 2 && datum.s == 'raw'"}], "mark": {"type": "line", "clip": true, "strokeWidth": 2, "interpolate": "linear"},
      "encoding": {"color": {"field": "s", "type": "nominal", "scale": {"domain": ["raw", "fit"], "range": ["#000000", "#ff0000"]}, "legend": null}}},
    {"data": {"name": "spec"}, "transform": [{"filter": "datum.p == 2 && datum.s == 'fit'"}], "mark": {"type": "line", "clip": true, "strokeWidth": 1.8, "interpolate": "monotone"},
      "encoding": {"color": {"field": "s", "type": "nominal", "scale": {"domain": ["raw", "fit"], "range": ["#000000", "#ff0000"]}, "legend": null}}},
    {"data": {"name": "ann"}, "transform": [{"filter": "datum.p == 2 && datum.k == 'snr'"}], "mark": {"type": "text", "align": "left", "baseline": "alphabetic", "font": "Liberation Sans", "fontWeight": "bold", "fontSize": 45, "color": "#000000"}, "encoding": {"text": {"field": "t"}}}
  ]
},
{
  "width": 1458.1, "height": 342.5,
  "encoding": {
    "x": {"field": "x", "type": "quantitative", "scale": {"domain": [-11.8, 10], "reverse": true, "nice": false, "zero": false},
      "axis": {"values": [10, 5, 0, -5, -10], "domainColor": "#00ff00", "tickColor": "#00ff00", "domainWidth": 5, "tickWidth": 3, "tickSize": -17, "labels": false, "title": null, "zindex": 1}},
    "y": {"field": "y", "type": "quantitative", "scale": {"domain": [-0.48, 2.2], "nice": false, "zero": false},
      "axis": {"values": [0, 1, 2], "domainColor": "#00ff00", "tickColor": "#00ff00", "domainWidth": 4, "tickWidth": 4.5, "tickSize": -18, "labelPadding": 32.6, "labelOffset": 2, "title": null, "zindex": 1}}
  },
  "layer": [
    {"data": {"name": "dash"}, "transform": [{"filter": "datum.p == 3"}], "mark": {"type": "rule", "strokeDash": [10, 6], "color": "#a6a6a6", "strokeWidth": 1.5}, "encoding": {"y2": {"field": "y2"}}},
    {"data": {"name": "spec"}, "transform": [{"filter": "datum.p == 3 && datum.s == 'raw'"}], "mark": {"type": "line", "clip": true, "strokeWidth": 2, "interpolate": "linear"},
      "encoding": {"color": {"field": "s", "type": "nominal", "scale": {"domain": ["raw", "fit"], "range": ["#000000", "#ff0000"]}, "legend": null}}},
    {"data": {"name": "spec"}, "transform": [{"filter": "datum.p == 3 && datum.s == 'fit'"}], "mark": {"type": "line", "clip": true, "strokeWidth": 1.8, "interpolate": "monotone"},
      "encoding": {"color": {"field": "s", "type": "nominal", "scale": {"domain": ["raw", "fit"], "range": ["#000000", "#ff0000"]}, "legend": null}}},
    {"data": {"name": "ann"}, "transform": [{"filter": "datum.p == 3 && datum.k == 'snr'"}], "mark": {"type": "text", "align": "left", "baseline": "alphabetic", "font": "Liberation Sans", "fontWeight": "bold", "fontSize": 45, "color": "#000000"}, "encoding": {"text": {"field": "t"}}}
  ]
},
{
  "width": 1458.1, "height": 342.5,
  "encoding": {
    "x": {"field": "x", "type": "quantitative", "scale": {"domain": [-11.8, 10], "reverse": true, "nice": false, "zero": false},
      "axis": {"values": [10, 5, 0, -5, -10], "domainColor": "#ff1ac8", "tickColor": "#ff1ac8", "domainWidth": 5, "tickWidth": 3, "tickSize": -17, "labels": true, "labelPadding": 44, "title": "δ / ppm", "titleFont": "Liberation Sans", "titleFontSize": 84, "titleFontWeight": "normal", "titleColor": "#262626", "titleX": 736.8, "titleY": 145, "titleBaseline": "alphabetic", "titleAlign": "center", "zindex": 1}},
    "y": {"field": "y", "type": "quantitative", "scale": {"domain": [-0.48, 2.2], "nice": false, "zero": false},
      "axis": {"values": [0, 1, 2], "domainColor": "#ff1ac8", "tickColor": "#ff1ac8", "domainWidth": 4, "tickWidth": 4.5, "tickSize": -18, "labelPadding": 32.6, "labelOffset": 2, "title": null, "zindex": 1}}
  },
  "layer": [
    {"data": {"name": "dash"}, "transform": [{"filter": "datum.p == 4"}], "mark": {"type": "rule", "strokeDash": [10, 6], "color": "#a6a6a6", "strokeWidth": 1.5}, "encoding": {"y2": {"field": "y2"}}},
    {"data": {"name": "spec"}, "transform": [{"filter": "datum.p == 4 && datum.s == 'raw'"}], "mark": {"type": "line", "clip": true, "strokeWidth": 2, "interpolate": "linear"},
      "encoding": {"color": {"field": "s", "type": "nominal", "scale": {"domain": ["raw", "fit"], "range": ["#000000", "#ff0000"]}, "legend": null}}},
    {"data": {"name": "spec"}, "transform": [{"filter": "datum.p == 4 && datum.s == 'fit'"}], "mark": {"type": "line", "clip": true, "strokeWidth": 1.8, "interpolate": "monotone"},
      "encoding": {"color": {"field": "s", "type": "nominal", "scale": {"domain": ["raw", "fit"], "range": ["#000000", "#ff0000"]}, "legend": null}}},
    {"data": {"name": "ann"}, "transform": [{"filter": "datum.p == 4 && datum.k == 'snr'"}], "mark": {"type": "text", "align": "left", "baseline": "alphabetic", "font": "Liberation Sans", "fontWeight": "bold", "fontSize": 45, "color": "#000000"}, "encoding": {"text": {"field": "t"}}}
  ]
}
]
}
